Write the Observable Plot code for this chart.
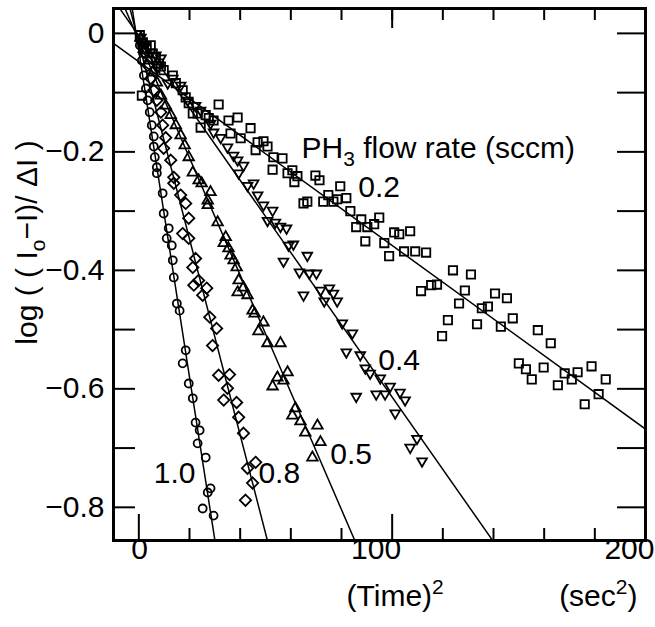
<!DOCTYPE html>
<html><head><meta charset="utf-8">
<script src="https://cdn.jsdelivr.net/npm/d3@7"></script>
<script src="https://cdn.jsdelivr.net/npm/@observablehq/plot@0.6"></script>
<style>html,body{margin:0;padding:0;background:#fff;overflow:hidden}</style>
</head><body><div id="chart"></div>
<script>
// ---- axis ticks / labels ----
const xTicksMajor = [0, 100, 200];
const xTicksMinor = [20, 40, 60, 80, 120, 140, 160, 180];
const xTopTicks = [20, 40, 60, 80, 100, 120, 140, 160, 180];
const xTickLabels = [0, 100, 200];
const yTicks = [0, -0.1, -0.2, -0.3, -0.4, -0.5, -0.6, -0.7, -0.8];
const yTickLabels = [0, -0.2, -0.4, -0.6, -0.8];

// ---- data: x = (Time)^2 [sec^2], y = log((Io-I)/ΔI) ----
const rate02 = [[0.4,-0.003],[1.6,-0.015],[2.0,-0.025],[3.1,-0.025],[4.7,-0.020],[5.5,-0.034],[7.9,-0.051],[8.7,-0.056],[1.2,-0.105],[6.7,-0.041],[9.8,-0.062],[13.4,-0.071],[14.6,-0.084],[17.3,-0.096],[18.5,-0.108],[19.7,-0.118],[21.3,-0.135],[23.2,-0.135],[26.4,-0.138],[27.6,-0.143],[24.4,-0.159],[31.5,-0.120],[29.5,-0.147],[35.4,-0.147],[39.0,-0.142],[36.2,-0.169],[40.2,-0.177],[44.1,-0.160],[46.1,-0.197],[46.9,-0.184],[49.2,-0.182],[50.8,-0.191],[53.1,-0.209],[56.7,-0.211],[52.8,-0.230],[58.7,-0.236],[60.6,-0.231],[62.6,-0.241],[61.4,-0.251],[69.7,-0.240],[71.3,-0.248],[79.5,-0.258],[74.8,-0.273],[65.0,-0.287],[66.5,-0.284],[72.8,-0.284],[76.8,-0.284],[78.3,-0.280],[81.9,-0.278],[83.5,-0.300],[87.8,-0.314],[94.9,-0.311],[85.8,-0.327],[90.2,-0.327],[92.9,-0.322],[89.4,-0.351],[100.8,-0.336],[102.8,-0.339],[107.1,-0.334],[96.9,-0.354],[98.8,-0.376],[104.7,-0.368],[109.1,-0.368],[113.4,-0.370],[124.0,-0.400],[131.1,-0.407],[111.4,-0.435],[115.4,-0.425],[117.7,-0.424],[128.7,-0.434],[126.4,-0.456],[140.6,-0.439],[145.3,-0.447],[135.4,-0.464],[137.8,-0.461],[122.0,-0.484],[133.5,-0.491],[142.9,-0.495],[147.6,-0.481],[119.7,-0.511],[157.5,-0.501],[162.6,-0.523],[150.0,-0.557],[152.8,-0.567],[155.1,-0.584],[159.8,-0.564],[168.1,-0.574],[170.9,-0.584],[173.2,-0.572],[178.7,-0.562],[165.4,-0.594],[184.3,-0.584],[181.5,-0.609],[176.0,-0.626]];
const rate04 = [[0.8,-0.007],[2.8,-0.020],[4.7,-0.032],[6.7,-0.037],[8.7,-0.042],[7.5,-0.057],[11.4,-0.084],[13.4,-0.076],[16.5,-0.088],[19.3,-0.113],[22.4,-0.122],[24.4,-0.130],[28.3,-0.152],[29.5,-0.167],[32.3,-0.176],[35.0,-0.192],[37.4,-0.206],[39.0,-0.214],[41.3,-0.223],[39.4,-0.236],[42.9,-0.257],[45.3,-0.253],[46.9,-0.273],[49.2,-0.290],[52.8,-0.299],[50.8,-0.316],[53.9,-0.319],[55.9,-0.326],[58.3,-0.329],[59.1,-0.358],[57.1,-0.385],[61.0,-0.356],[66.5,-0.375],[63.4,-0.403],[67.3,-0.405],[70.1,-0.405],[71.7,-0.434],[75.2,-0.430],[76.8,-0.439],[78.3,-0.452],[73.2,-0.452],[65.0,-0.442],[80.3,-0.489],[84.3,-0.506],[81.9,-0.538],[87.4,-0.543],[89.4,-0.565],[91.3,-0.574],[95.3,-0.582],[99.2,-0.596],[85.8,-0.613],[93.7,-0.609],[97.2,-0.609],[103.1,-0.606],[105.1,-0.619],[101.2,-0.641],[109.8,-0.684],[107.1,-0.699],[111.8,-0.722]];
const rate05 = [[0.8,-0.008],[2.4,-0.029],[3.9,-0.046],[5.5,-0.066],[7.1,-0.083],[8.7,-0.105],[10.6,-0.122],[12.6,-0.138],[14.6,-0.155],[16.5,-0.172],[18.1,-0.189],[19.7,-0.209],[21.3,-0.235],[23.6,-0.248],[24.8,-0.253],[28.3,-0.268],[27.2,-0.282],[27.2,-0.290],[31.1,-0.319],[34.3,-0.344],[33.5,-0.354],[35.4,-0.363],[36.2,-0.375],[37.4,-0.383],[38.6,-0.395],[39.4,-0.417],[39.0,-0.437],[41.3,-0.429],[42.9,-0.442],[44.9,-0.468],[45.7,-0.473],[49.2,-0.488],[47.2,-0.503],[50.8,-0.523],[55.9,-0.523],[54.7,-0.581],[58.7,-0.572],[52.8,-0.596],[57.1,-0.586],[61.8,-0.633],[60.6,-0.645],[63.8,-0.655],[65.7,-0.674],[70.5,-0.662],[71.7,-0.690],[68.5,-0.716]];
const rate08 = [[0.8,-0.012],[2.0,-0.032],[3.5,-0.054],[4.7,-0.076],[5.9,-0.096],[7.1,-0.113],[8.7,-0.133],[9.4,-0.155],[10.6,-0.176],[9.8,-0.194],[12.6,-0.214],[13.8,-0.243],[13.8,-0.253],[16.5,-0.273],[18.5,-0.287],[19.7,-0.312],[17.3,-0.338],[19.7,-0.346],[22.4,-0.380],[21.3,-0.395],[23.6,-0.417],[21.7,-0.425],[26.8,-0.430],[25.2,-0.442],[28.0,-0.479],[30.7,-0.498],[29.1,-0.527],[31.5,-0.577],[35.8,-0.576],[35.0,-0.599],[33.5,-0.619],[38.6,-0.623],[39.4,-0.648],[41.3,-0.675],[46.1,-0.724],[42.9,-0.734],[44.9,-0.759],[42.1,-0.788]];
const rate10 = [[0.4,-0.020],[1.2,-0.046],[2.0,-0.071],[2.8,-0.093],[3.5,-0.113],[4.3,-0.133],[5.1,-0.155],[5.9,-0.174],[5.9,-0.191],[6.3,-0.209],[7.1,-0.226],[7.1,-0.236],[9.4,-0.270],[9.8,-0.304],[11.8,-0.329],[11.0,-0.346],[13.0,-0.358],[13.4,-0.383],[13.8,-0.412],[15.0,-0.456],[16.1,-0.468],[18.5,-0.535],[17.3,-0.557],[19.7,-0.591],[21.3,-0.616],[22.4,-0.657],[24.0,-0.670],[23.2,-0.692],[26.4,-0.716],[28.3,-0.768],[27.2,-0.775],[25.2,-0.802],[29.5,-0.814]];

// ---- fitted lines (slope per sec^2, intercept) ----
const rates = ["0.2", "0.4", "0.5", "0.8", "1.0"];
const slopes = [-0.0031, -0.0061, -0.0099, -0.01655, -0.0275];
const intercepts = [-0.048, -0.004, -0.012, -0.016, -0.030];

// ---- annotations (data coordinates) ----
const seriesLabels = [
  {text: "0.2", x: 86.6, y: -0.260},
  {text: "0.4", x: 94.5, y: -0.552},
  {text: "0.5", x: 75.6, y: -0.711},
  {text: "0.8", x: 47.2, y: -0.743},
  {text: "1.0", x: 5.9, y: -0.743}
];
const legendTitle = {text: "PH3 flow rate (sccm)", x: 64.2, y: -0.194};
const xTitle = "(Time)2";
const xUnit = "(sec2)";
const yTitle = "log ( ( Io−I)/ ΔI )";

const xDomain = [-10, 200];
const yDomain = [-0.856, 0.042];

const W = 655, H = 627, mL = 113, mR = 10, mT = 8, mB = 87;
const FW = W - mL - mR, FH = H - mT - mB;
const FONT = "Liberation Sans, Arial, Helvetica, sans-serif";
const FS = 30;

const toPts = (arr, rate) => arr.map(([x, y]) => ({x, y, rate}));
const lineData = rates.flatMap((r, i) => xDomain.map(x => ({rate: r, x, y: intercepts[i] + slopes[i] * x})));

const invTriangle = {draw(ctx, size) {
  const y = Math.sqrt(size / (Math.sqrt(3) * 3));
  ctx.moveTo(0, y * 2); ctx.lineTo(-Math.sqrt(3) * y, -y); ctx.lineTo(Math.sqrt(3) * y, -y); ctx.closePath();
}};
const diamondSq = {draw(ctx, size) {
  const d = Math.sqrt(size / 2);
  ctx.moveTo(0, -d); ctx.lineTo(d, 0); ctx.lineTo(0, d); ctx.lineTo(-d, 0); ctx.closePath();
}};

const dotStyle = {x: "x", y: "y", fill: "none", stroke: "black", strokeWidth: 1.8};
const txt = {fontFamily: FONT, fontSize: FS, fill: "black"};

const svg = Plot.plot({
  width: W, height: H,
  marginLeft: mL, marginRight: mR, marginTop: mT, marginBottom: mB,
  x: {domain: xDomain, axis: null},
  y: {domain: yDomain, axis: null},
  style: {background: "white"},
  marks: [
    Plot.line(lineData, {x: "x", y: "y", z: "rate", stroke: "black", strokeWidth: 1.5, clip: true}),
    Plot.dot(toPts(rate02, "0.2"), {...dotStyle, symbol: "square", r: 4.7}),
    Plot.dot(toPts(rate04, "0.4"), {...dotStyle, symbol: invTriangle, r: 3.6}),
    Plot.dot(toPts(rate05, "0.5"), {...dotStyle, symbol: "triangle", r: 3.9}),
    Plot.dot(toPts(rate08, "0.8"), {...dotStyle, symbol: diamondSq, r: 4.5}),
    Plot.dot(toPts(rate10, "1.0"), {...dotStyle, symbol: "circle", r: 4}),
    // ticks (inward)
    Plot.tickY(yTicks, {y: d => d, stroke: "black", strokeWidth: 2, insetRight: FW - 22}),
    Plot.tickY(yTicks, {y: d => d, stroke: "black", strokeWidth: 2, insetLeft: FW - 28}),
    Plot.tickX(xTicksMinor, {x: d => d, stroke: "black", strokeWidth: 2, insetTop: FH - 12}),
    Plot.tickX(xTicksMajor, {x: d => d, stroke: "black", strokeWidth: 2, insetTop: FH - 26}),
    Plot.tickX(xTopTicks, {x: d => d, stroke: "black", strokeWidth: 2, insetBottom: FH - 12}),
    Plot.tickX([100], {x: d => d, stroke: "black", strokeWidth: 2, insetBottom: FH - 20}),
    Plot.frame({stroke: "black", strokeWidth: 3}),
    // tick labels
    Plot.text(yTickLabels, {...txt, y: d => d, text: d => d === 0 ? "0" : "−" + Math.abs(d).toFixed(1), frameAnchor: "left", textAnchor: "end", dx: -9}),
    Plot.text(xTickLabels, {...txt, x: d => d, text: d => String(d), frameAnchor: "bottom", textAnchor: "end", dx: 9, dy: 18}),
    // titles
    Plot.text([xTitle], {...txt, x: () => 100, text: d => d, frameAnchor: "bottom", textAnchor: "middle", dx: 3, dy: 65}),
    Plot.text([xUnit], {...txt, text: d => d, frameAnchor: "bottom-right", textAnchor: "end", dx: -8, dy: 65}),
    Plot.text([yTitle], {...txt, text: d => d, frameAnchor: "left", rotate: -90, textAnchor: "middle", dx: -86, dy: -32}),
    // annotations
    Plot.text([legendTitle], {...txt, x: "x", y: "y", text: "text", textAnchor: "start"}),
    Plot.text(seriesLabels, {...txt, x: "x", y: "y", text: "text", textAnchor: "start"})
  ]
});

// sub/superscripts as real text
const rich = {
  "PH3 flow rate (sccm)": [["PH", 0], ["3", 1], [" flow rate (sccm)", -1]],
  "(Time)2": [["(Time)", 0], ["2", 2]],
  "(sec2)": [["(sec", 0], ["2", 2], [")", -2]],
  "log ( ( Io−I)/ ΔI )": [["log ( ( I", 0], ["o", 1], ["−I)/ ΔI )", -1]]
};
d3.select(svg).selectAll("text").each(function() {
  const parts = rich[this.textContent];
  if (!parts) return;
  this.textContent = "";
  const sel = d3.select(this);
  for (const [s, k] of parts) {
    const t = sel.append("tspan").text(s);
    if (k === 1) t.attr("dy", 8).attr("font-size", 21);
    else if (k === -1) t.attr("dy", -8);
    else if (k === 2) t.attr("dy", -12).attr("font-size", 21);
    else if (k === -2) t.attr("dy", 12);
  }
});

document.getElementById("chart").appendChild(svg);
</script>
</body></html>
